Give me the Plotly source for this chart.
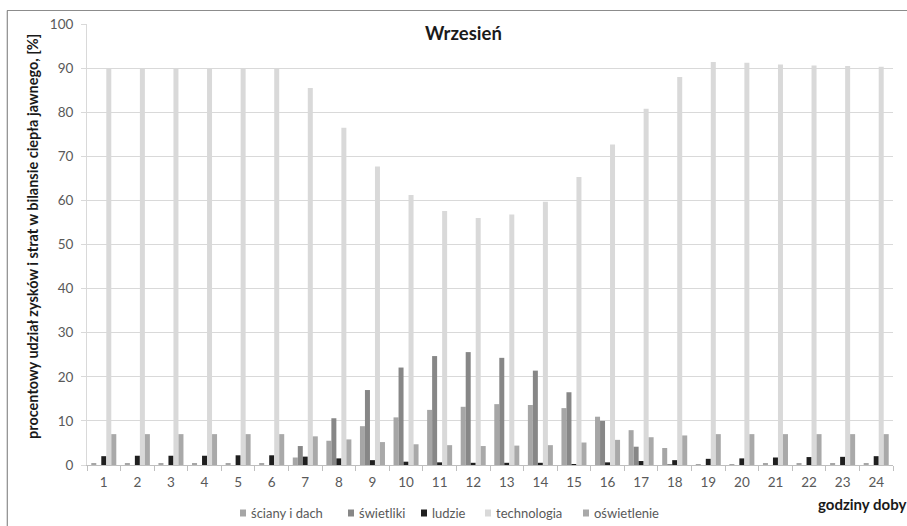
import plotly.graph_objects as go

hours = [str(h) for h in range(1, 25)]

sciany = [0.45, 0.45, 0.45, 0.45, 0.4, 0.35, 1.7, 5.5, 8.8, 10.8, 12.5, 13.2,
          13.8, 13.6, 12.9, 10.95, 7.9, 3.85, 0.1, 0.15, 0.3, 0.35, 0.4, 0.45]
swietliki = [0, 0, 0, 0, 0, 0, 4.3, 10.6, 17.0, 22.1, 24.7, 25.6,
             24.3, 21.4, 16.5, 10.0, 4.15, 0.1, 0, 0, 0, 0, 0, 0]
ludzie = [2.0, 2.1, 2.1, 2.1, 2.2, 2.2, 1.9, 1.5, 1.1, 0.75, 0.6, 0.5,
          0.5, 0.5, 0.2, 0.6, 0.9, 1.1, 1.4, 1.5, 1.7, 1.8, 1.85, 2.0]
technologia = [90.0, 90.0, 90.0, 90.0, 90.0, 90.0, 85.5, 76.5, 67.7, 61.2, 57.6, 56.0,
               56.8, 59.7, 65.3, 72.7, 80.8, 88.0, 91.4, 91.2, 90.8, 90.6, 90.5, 90.3]
oswietlenie = [7.0, 7.0, 7.0, 7.0, 7.0, 7.0, 6.5, 5.8, 5.2, 4.7, 4.5, 4.3,
               4.4, 4.5, 5.1, 5.7, 6.3, 6.7, 7.0, 7.0, 7.0, 7.0, 7.0, 7.0]

names = ["ściany i dach", "świetliki", "ludzie", "technologia", "oświetlenie"]
values = [sciany, swietliki, ludzie, technologia, oswietlenie]
colors = ["#a6a6a6", "#878787", "#1f1f1f", "#d9d9d9", "#a9a9a9"]

FONT = "Lato, 'Open Sans', sans-serif"

fig = go.Figure()
for name, vals, col in zip(names, values, colors):
    fig.add_trace(go.Bar(x=hours, y=vals, name=name, showlegend=False,
                         marker=dict(color=col, line=dict(width=0))))

W, H = 907, 526
L, R, T, B = 87, 893, 24, 465

fig.update_layout(
    width=W, height=H,
    margin=dict(l=L, r=W - R, t=T, b=H - B),
    paper_bgcolor="white", plot_bgcolor="white",
    barmode="group", bargap=0.255, bargroupgap=0,
    font=dict(family=FONT, size=13, color="#595959"),
    showlegend=False,
    xaxis=dict(type="category", showgrid=False, showline=True, linecolor="#bfbfbf",
               ticks="outside", tickson="boundaries", ticklen=5, tickcolor="#bfbfbf",
               ticklabelstandoff=5,
               tickfont=dict(size=13.5, color="#595959")),
    yaxis=dict(range=[0, 100], dtick=10, showgrid=True, gridcolor="#d9d9d9", gridwidth=1.3,
               showline=True, linecolor="#d9d9d9", ticks="outside", ticklen=5,
               tickcolor="#d9d9d9", zeroline=False, ticklabelstandoff=5,
               tickfont=dict(size=13.5, color="#595959")),
)

pw, ph = R - L, B - T
def px(x):
    return (x - L) / pw
def py(y):
    return (B - y) / ph

# chart frame: only top and left edges are visible in the (cropped) reference
fig.add_shape(type="line", xref="paper", yref="paper",
              x0=px(7), x1=px(910), y0=py(10.5), y1=py(10.5),
              line=dict(color="#8c8c8c", width=1.2), layer="below")
fig.add_shape(type="line", xref="paper", yref="paper",
              x0=px(7.3), x1=px(7.3), y0=py(10.5), y1=py(530),
              line=dict(color="#8c8c8c", width=1.2), layer="below")

fig.add_annotation(text="<b>Wrzesień</b>", xref="paper", yref="paper",
                   x=px(463), y=py(33), xanchor="center", yanchor="middle", showarrow=False,
                   font=dict(size=18.5, color="#1a1a1a", family=FONT))
fig.add_annotation(text="<b>procentowy udział zysków i strat w bilansie ciepła jawnego, [%]</b>",
                   xref="paper", yref="paper", x=px(32), y=py(237), textangle=-90,
                   xanchor="center", yanchor="middle",
                   showarrow=False, font=dict(size=14.5, color="#1a1a1a", family=FONT))
fig.add_annotation(text="<b>godziny doby</b>", xref="paper", yref="paper",
                   x=px(862), y=py(504), xanchor="center", yanchor="middle", showarrow=False,
                   font=dict(size=15, color="#1a1a1a", family=FONT))

# manual legend (compact, as in the reference)
legend_marker_x = [240, 348, 421, 485, 583]
LY = 513
for name, col, mx in zip(names, colors, legend_marker_x):
    fig.add_shape(type="rect", xref="paper", yref="paper",
                  x0=px(mx), x1=px(mx + 6), y0=py(LY + 3.5), y1=py(LY - 3.5),
                  line=dict(width=0), fillcolor=col)
    fig.add_annotation(text=name, xref="paper", yref="paper",
                       x=px(mx + 9), y=py(LY), xanchor="left", yanchor="middle",
                       showarrow=False, font=dict(size=13, color="#595959", family=FONT))

fig.write_html("out.html")
